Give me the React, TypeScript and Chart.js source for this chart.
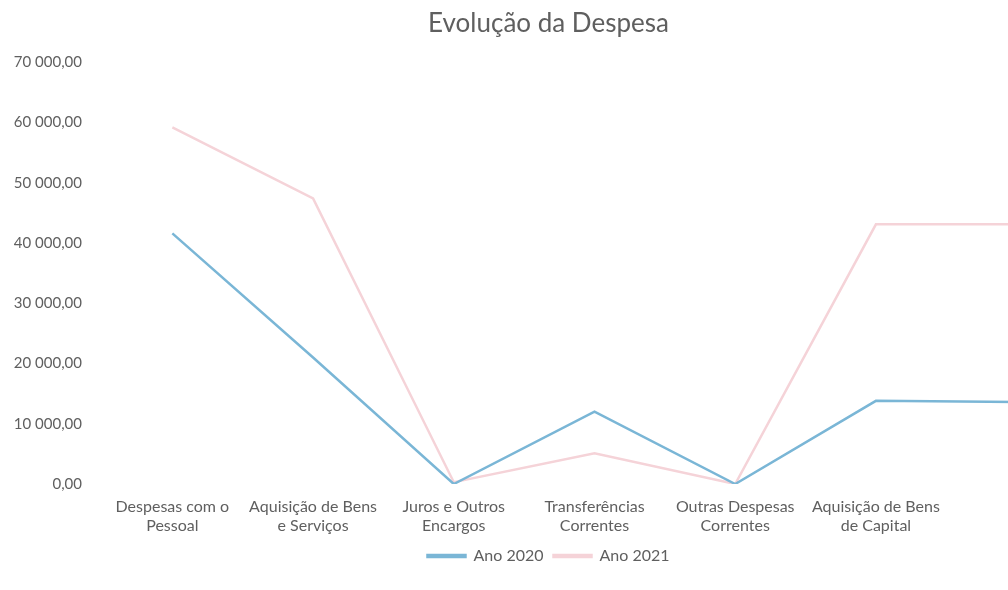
import React, { useEffect, useRef } from "react";
import { Chart, registerables } from "chart.js";

Chart.register(...registerables);

const categories: (string | string[])[] = [
  ["Despesas com o", "Pessoal"],
  ["Aquisição de Bens", "e Serviços"],
  ["Juros e Outros", "Encargos"],
  ["Transferências", "Correntes"],
  ["Outras Despesas", "Correntes"],
  ["Aquisição de Bens", "de Capital"],
  "",
];
const ano2020 = [41600, 21000, 0, 12000, 0, 13800, 13600];
const ano2021 = [59200, 47400, 300, 5100, 0, 43100, 43100];
const yTicks = [0, 10000, 20000, 30000, 40000, 50000, 60000, 70000];

const fmt = (v: number) => {
  const s = Math.round(v).toString().replace(/\B(?=(\d{3})+(?!\d))/g, " ");
  return s + ",00";
};

export default function App() {
  const ref = useRef<HTMLCanvasElement | null>(null);
  useEffect(() => {
    document.body.style.margin = "0";
    const ctx = ref.current!;
    const textColor = "#5f5f5f";
    const font = "Lato, 'Open Sans', sans-serif";
    const chart = new Chart(ctx, {
      type: "line",
      data: {
        labels: categories,
        datasets: [
          {
            label: "Ano 2020",
            data: ano2020,
            borderColor: "#7ab6d6",
            backgroundColor: "#7ab6d6",
            borderWidth: 2.5,
            pointRadius: 0,
            tension: 0,
          },
          {
            label: "Ano 2021",
            data: ano2021,
            borderColor: "#f5d3d8",
            backgroundColor: "#f5d3d8",
            borderWidth: 2.5,
            pointRadius: 0,
            tension: 0,
          },
        ],
      },
      options: {
        responsive: false,
        animation: false,
        layout: { padding: { left: 10, right: 25, top: 0, bottom: 16 } },
        plugins: {
          title: {
            display: true,
            text: "Evolução da Despesa",
            color: textColor,
            font: { family: font, size: 26, weight: "normal" },
            padding: { top: 8, bottom: 23 },
          },
          legend: {
            display: true,
            position: "bottom",
            labels: {
              color: textColor,
              font: { family: font, size: 16 },
              boxWidth: 38,
              boxHeight: 2,
              padding: 10,
            },
          },
          tooltip: { enabled: false },
        },
        scales: {
          x: {
            type: "category",
            offset: true,
            grid: { display: false, drawTicks: false },
            border: { display: false },
            afterFit: (scale: any) => {
              scale.height = 54;
            },
            ticks: {
              color: textColor,
              font: { family: font, size: 16 },
              maxRotation: 0,
              autoSkip: false,
              padding: 13,
            },
          },
          y: {
            min: 0,
            max: 70000,
            afterFit: (scale: any) => {
              scale.width = 92;
            },
            afterBuildTicks: (scale: any) => {
              scale.ticks = yTicks.map((v) => ({ value: v }));
            },
            grid: { display: false, drawTicks: false },
            border: { display: false },
            ticks: {
              color: textColor,
              font: { family: font, size: 15 },
              padding: 20,
              callback: (v: any) => fmt(Number(v)),
            },
          },
        },
      },
    });
    return () => chart.destroy();
  }, []);
  return (
    <div
      style={{
        position: "fixed",
        left: 0,
        top: 0,
        width: 1008,
        height: 590,
        overflow: "hidden",
        background: "#fff",
      }}
    >
      <canvas ref={ref} width={1112} height={590} />
    </div>
  );
}
